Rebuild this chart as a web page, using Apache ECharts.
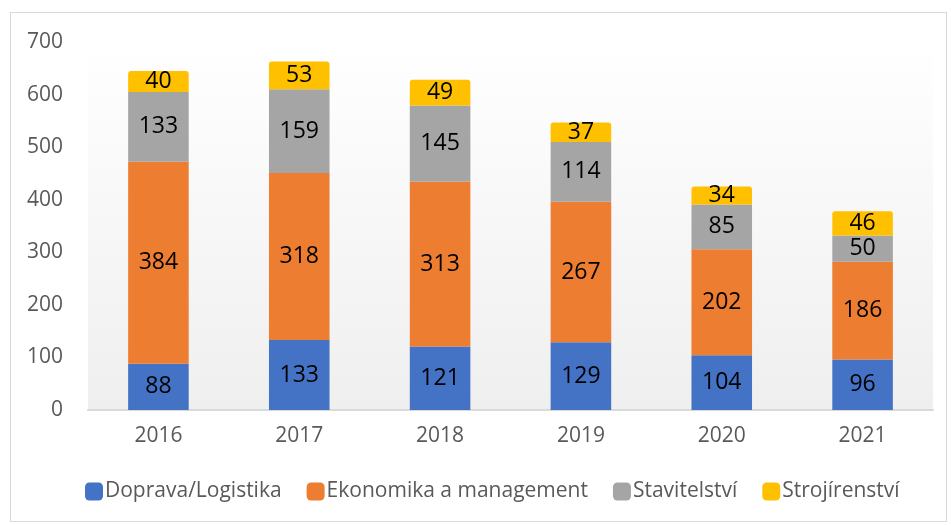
<!DOCTYPE html>
<html>
<head>
<meta charset="utf-8">
<script src="https://cdn.jsdelivr.net/npm/echarts@6/dist/echarts.min.js"></script>
<style>
  html, body { margin: 0; padding: 0; background: #fff; }
  #chart { width: 951px; height: 525px; }
  .frame {
    position: absolute; left: 10px; top: 12px; width: 937px; height: 510px;
    border: 1px solid #d9d9d9; box-sizing: border-box; pointer-events: none;
  }
</style>
</head>
<body>
<div id="chart"></div>
<div class="frame"></div>
<script>
  // values
  const years = ["2016", "2017", "2018", "2019", "2020", "2021"];
  const doprava = [88, 133, 121, 129, 104, 96];
  const ekonomika = [384, 318, 313, 267, 202, 186];
  const stavitelstvi = [133, 159, 145, 114, 85, 50];
  const strojirenstvi = [40, 53, 49, 37, 34, 46];
  const seriesNames = ["Doprava/Logistika", "Ekonomika a management", "Stavitelství", "Strojírenství"];
  const colors = ["#4472C4", "#ED7D31", "#A5A5A5", "#FFC000"];

  const font = "'Open Sans', 'Noto Sans', sans-serif";
  const myChart = echarts.init(document.getElementById("chart"));

  const makeSeries = (name, data, color, top) => ({
    name: name,
    type: "bar",
    stack: "total",
    data: data,
    barWidth: "43%",
    itemStyle: {
      color: color,
      borderRadius: top ? [3, 3, 0, 0] : 0
    },
    label: {
      show: true,
      position: "inside",
      color: "#000",
      fontSize: 23,
      fontFamily: font
    }
  });

  const option = {
    animation: false,
    textStyle: { fontFamily: font },
    grid: {
      left: 88,
      right: 18,
      top: 42,
      bottom: 115,
      show: true,
      borderWidth: 0,
      backgroundColor: new echarts.graphic.LinearGradient(0, 0, 0, 1, [
        { offset: 0, color: "#ffffff" },
        { offset: 1, color: "#efefef" }
      ])
    },
    legend: {
      bottom: 18,
      left: 80,
      itemWidth: 18,
      itemHeight: 18,
      itemGap: 25,
      icon: "roundRect",
      textStyle: { color: "#595959", fontSize: 21, fontFamily: font, padding: [0, 0, 0, -3] },
      data: seriesNames
    },
    xAxis: {
      type: "category",
      data: years,
      axisLine: { lineStyle: { color: "#d9d9d9", width: 2 } },
      axisTick: { show: false },
      axisLabel: { color: "#595959", fontSize: 21, margin: 16 }
    },
    yAxis: {
      type: "value",
      min: 0,
      max: 700,
      interval: 100,
      splitLine: { show: false },
      axisLine: { show: false },
      axisTick: { show: false },
      axisLabel: { color: "#595959", fontSize: 21, margin: 25 }
    },
    series: [
      makeSeries(seriesNames[0], doprava, colors[0], false),
      makeSeries(seriesNames[1], ekonomika, colors[1], false),
      makeSeries(seriesNames[2], stavitelstvi, colors[2], false),
      makeSeries(seriesNames[3], strojirenstvi, colors[3], true)
    ]
  };

  myChart.setOption(option);
</script>
</body>
</html>
